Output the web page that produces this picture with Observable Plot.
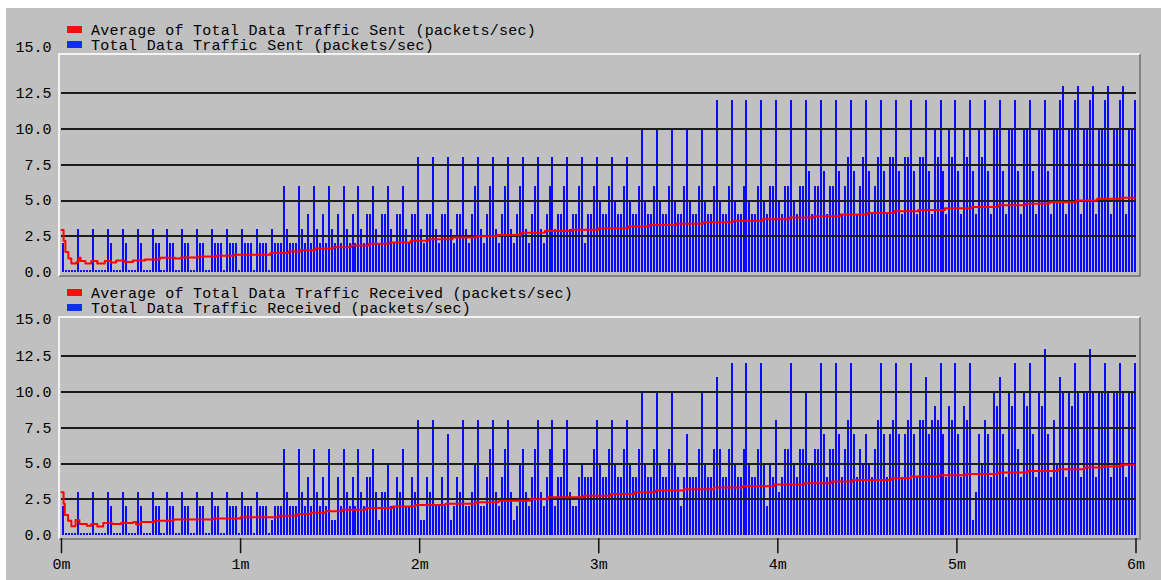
<!DOCTYPE html>
<html><head><meta charset="utf-8">
<script src="https://cdn.jsdelivr.net/npm/d3@7"></script>
<script src="https://cdn.jsdelivr.net/npm/@observablehq/plot@0.6"></script>
<style>
html,body{margin:0;padding:0;background:#fff;overflow:hidden;}
#stage{position:relative;width:1161px;height:580px;overflow:hidden;background:#fff;}
#bg{position:absolute;left:6px;top:8px;right:0;bottom:0;background:#c0c0c0;}
.frame{position:absolute;box-sizing:border-box;border-left:2px solid #f4f4f4;border-top:2px solid #f4f4f4;border-right:2px solid #848484;border-bottom:2px solid #848484;}
</style></head><body><div id="stage"><div id="bg"></div></div>
<script>
// ---------- data ----------
const sampleSeconds = d3.range(360); // one sample per second, 0..359 s
const sentValues = [
  2,.1,.1,.1,.1, 3,.1,.1,.1,.1, 3,.1,.1,.1,.1, 3,2,.1,.1,.1,
  3,2,.1,.1,.1, 3,2,.1,.1,.1, 3,2,2,.1,.1, 3,2,2,.1,.1,
  3,2,2,.1,.1, 3,2,2,.1,.1, 3,2,2,2,.1, 3,2,2,2,.1,
  3,2,2,2,.1, 3,2,2,2,.1, 3,2,2,2,
  6,3,2,2,2, 6,3,2,4,2, 6,3,2,4,2, 6,3,2,4,2, 6,3,2,4,2,
  6,3,2,4,4, 6,3,2,4,4, 6,3,2,4,4, 6,3,2,4,4,
  8,3,2,4,4, 8,3,2,4,4, 8,3,2,4,4, 8,3,2,4,6, 8,3,2,4,6,
  8,3,2,4,6, 8,3,2,4,6, 8,3,2,4,6, 8,3,2,4,6, 8,3,4,4,6,
  8,3,4,4,6, 8,2,4,4,6, 8,5,4,4,6, 8,5,4,4,6, 8,5,4,4,6,
  10,5,4,4,6, 10,5,4,4,6, 10,5,4,4,6, 10,5,4,4,6, 10,5,4,4,6,
  12,5,4,4,6, 12,5,4,4,6, 12,5,4,4,6, 12,5,4,6,6, 12,5,4,6,6,
  12,5,4,6,6, 12,7,4,6,6, 12,7,4,6,6, 12,7,4,6,8, 12,7,4,6,8,
  12,7,4,6,8, 12,7,4,8,8, 12,7,4,8,8, 12,7,4,8,8, 12,7,4,10,8,
  12,7,4,10,8, 12,7,4,10,8, 12,7,4,10,8, 12,7,4,10,10, 12,7,4,10,10,
  12,7,4,10,10, 12,7,4,10,10, 12,7,4,10,10, 12,13,4,10,10, 12,13,4,10,10,
  12,13,4,10,10, 12,13,4,10,10, 12,13,4,10,10, 12
];
const recvValues = [
  2,.1,.1,.1,.1, 3,.1,.1,.1,.1, 3,.1,.1,.1,.1, 3,2,.1,.1,.1,
  3,2,.1,.1,.1, 3,2,.1,.1,.1, 3,2,2,.1,.1, 3,2,2,.1,.1,
  3,2,2,.1,.1, 3,2,2,.1,.1, 3,2,2,.1,.1, 3,2,2,2,.1,
  3,2,2,2,.1, 3,2,2,2,.1, 1,2,2,2,
  6,3,2,2,2, 6,3,2,4,2, 6,3,2,4,2, 6,1,1,4,2, 6,3,2,4,2,
  6,3,2,4,4, 6,3,1,3,3, 5,2,2,4,3, 6,2,2,4,3,
  8,1,1,4,3, 8,2,2,4,2, 7,1,2,4,3, 8,2,2,3,5, 8,2,2,4,6,
  8,3,2,4,6, 8,3,1,2,5, 6,3,2,4,6, 8,3,2,4,6, 8,2,4,4,6,
  8,3,2,2,4, 5,4,4,4,6, 8,5,4,4,6, 8,5,4,4,6, 8,5,4,4,6,
  10,5,4,4,6, 10,5,4,4,6, 10,5,4,2,4, 7,4,4,4,6, 10,5,4,4,6,
  11,6,4,4,6, 12,5,4,4,6, 12,5,4,4,6, 12,5,2,5,4, 8,3,4,6,6,
  12,5,4,6,6, 10,5,5,6,6, 12,7,4,6,6, 12,7,4,6,8, 12,7,4,6,5,
  7,5,4,6,8, 12,7,4,7,8, 12,7,4,7,8, 12,7,4,8,8, 11,7,8,9,8,
  12,7,4,9,8, 12,7,4,9,8, 12,1,3,7,5, 8,7,4,10,9, 11,7,4,10,9,
  12,6,4,10,9, 12,7,4,10,9, 13,7,4,8,5, 11,10,4,10,9, 12,10,4,10,10,
  13,10,4,10,10, 12,10,4,10,10, 12,10,4,10,10, 12
];
const sentAvgSeconds = [0,0.7,1.3,2.3,3.3,5,5.7,6.4,8,10,12,14.5,16.5,18.3,21,23.9,28,33,38,40,46,52,58,70,76,80,85,91,97,103,110,117,123,131,139,146,154,162,171,180,190,197,206,215,225,235,244,252,261,270,279,287,296,305,314,323,331,340,347,355,359.5];
const sentAvgValues  = [2.95,2.2,1.4,0.95,0.6,0.7,1.0,0.78,0.6,0.77,0.6,0.77,0.68,0.82,0.7,0.82,0.89,1.0,0.95,1.03,1.1,1.15,1.22,1.33,1.44,1.53,1.65,1.74,1.86,1.98,2.07,2.2,2.3,2.42,2.5,2.6,2.75,2.87,2.96,3.07,3.18,3.29,3.38,3.48,3.59,3.7,3.82,3.91,4.02,4.13,4.25,4.35,4.46,4.56,4.67,4.77,4.88,5.0,5.12,5.19,5.19];
const recvAvgSeconds = [0,0.7,1.1,2.2,3.3,4.7,6,8.5,10,12,14,17,20,24,25,26.5,31,37.6,51,60,73,79,83.5,88.5,94,102,111,118.6,128.6,138.7,146.5,157,163,175,184,192,199,208.6,218.6,228,238.8,248.8,258,265,278,284.6,294,303,313.7,323.7,333.8,342.7,349,355,359.5];
const recvAvgValues  = [3.0,2.2,1.4,1.0,0.62,1.06,0.78,0.66,0.78,0.6,0.85,0.78,0.85,0.92,0.75,0.92,1.01,1.1,1.17,1.25,1.36,1.48,1.57,1.67,1.78,1.9,2.0,2.1,2.2,2.3,2.4,2.5,2.65,2.76,2.88,3.0,3.11,3.2,3.32,3.41,3.53,3.62,3.74,3.86,3.97,4.09,4.18,4.28,4.37,4.49,4.6,4.72,4.8,4.91,4.91];
const yTicks = [0, 2.5, 5, 7.5, 10, 12.5, 15];
const gridValues = [2.5, 5, 7.5, 10, 12.5];
const xTicks = [0, 1, 2, 3, 4, 5, 6];
const sentLegend = ["Average of Total Data Traffic Sent (packets/sec)", "Total Data Traffic Sent (packets/sec)"];
const recvLegend = ["Average of Total Data Traffic Received (packets/sec)", "Total Data Traffic Received (packets/sec)"];
const swatchColors = ["#f01010", "#1030f0"];

// ---------- drawing ----------
const stage = document.getElementById("stage");
const FONT = "Liberation Mono, DejaVu Sans Mono, monospace";

function addFrame(top) {
  const f = document.createElement("div");
  f.className = "frame";
  Object.assign(f.style, {left: "58px", top: top + "px", width: "1083px", height: "224px"});
  stage.appendChild(f);
}

function panel({values, avgT, avgV, svgTop, height, marginTop, marginBottom, showX, topLabelDy}) {
  const bars = values.map((v, i) => ({t: (sampleSeconds[i] + 0.5) / 60, v}));
  const avg = avgT.map((t, i) => ({t: t / 60, v: avgV[i]}));
  const marks = [
    Plot.ruleX(bars, {x: "t", y1: 0, y2: "v", stroke: "#0a0aff", strokeWidth: 2, shapeRendering: "crispEdges"}),
    Plot.ruleY(gridValues, {stroke: "#1c1c1c", strokeWidth: 2, shapeRendering: "crispEdges"}),
    Plot.line(avg, {x: "t", y: "v", curve: "step-after", stroke: "#ff0000", strokeWidth: 2}),
    Plot.text(yTicks.filter(d => d < 15), {y: d => d, text: d => d.toFixed(1), frameAnchor: "left", textAnchor: "end", dx: -10, fill: "#000"}),
    Plot.text(yTicks.filter(d => d === 15), {y: d => d, text: d => d.toFixed(1), frameAnchor: "left", textAnchor: "end", dx: -10, dy: topLabelDy, fill: "#000"})
  ];
  if (showX) marks.push(Plot.axisX(xTicks, {tickSize: 15, tickPadding: 5, tickFormat: d => d + "m", strokeWidth: 1.5, stroke: "#111", fill: "#000", label: null}));
  const svg = Plot.plot({
    width: 1161, height, marginTop, marginBottom, marginLeft: 61, marginRight: 25.5,
    x: showX ? {domain: [0, 6], label: null} : {domain: [0, 6], axis: null, label: null},
    y: {domain: [-0.25, 15], axis: null, label: null},
    style: {background: "transparent", fontFamily: FONT, fontSize: "15px", color: "#000", overflow: "visible"},
    marks
  });
  svg.style.position = "absolute";
  svg.style.left = "0px";
  svg.style.top = svgTop + "px";
  svg.style.maxWidth = "none";
  stage.appendChild(svg);
}

function legend(labels, top) {
  const svg = d3.select(stage).append("svg")
    .attr("width", 1161).attr("height", 40)
    .style("position", "absolute").style("left", "0px").style("top", top + "px");
  labels.forEach((label, i) => {
    svg.append("rect").attr("x", 67).attr("y", 3 + i * 15).attr("width", 15).attr("height", 7).attr("fill", swatchColors[i]);
    svg.append("text").attr("x", 91).attr("y", 12 + i * 15).text(label)
      .attr("font-family", FONT).attr("font-size", 15).attr("letter-spacing", "0.27px").attr("fill", "#000");
  });
}

addFrame(53);
addFrame(315.7);
panel({values: sentValues, avgT: sentAvgSeconds, avgV: sentAvgValues, svgTop: 40, height: 250, marginTop: 17, marginBottom: 14.8, showX: false, topLabelDy: -10});
panel({values: recvValues, avgT: recvAvgSeconds, avgV: recvAvgValues, svgTop: 302.7, height: 277, marginTop: 17, marginBottom: 41.8, showX: true, topLabelDy: -1});
legend(sentLegend, 23);
legend(recvLegend, 285.7);
</script></body></html>
